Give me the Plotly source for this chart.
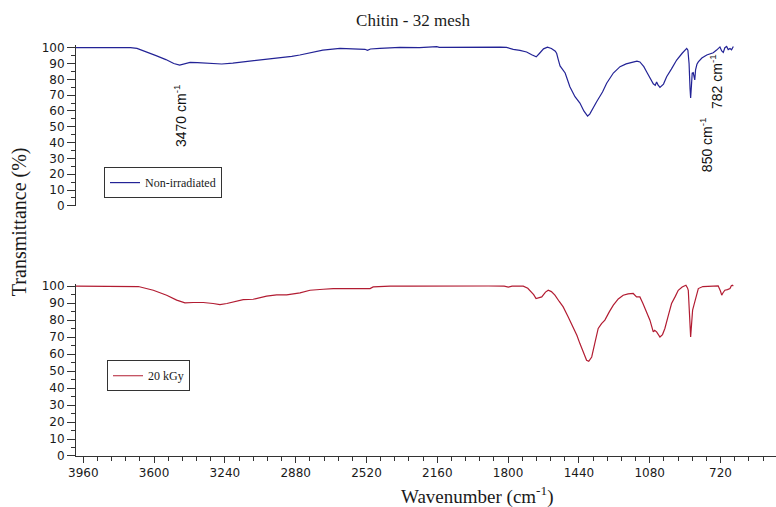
import plotly.graph_objects as go

# FTIR spectra of chitin (32 mesh): wavenumber (cm^-1) vs transmittance (%)
wn_raw = [4000, 3900, 3800, 3720, 3687, 3640, 3590, 3540, 3500, 3470, 3450, 3417, 3380,
          3330, 3256, 3200, 3112, 3040, 2946, 2900, 2859, 2800, 2742, 2655, 2560, 2528,
          2515, 2500, 2452, 2350, 2250, 2180, 2163, 2150, 2080, 2000, 1990, 1960, 1900,
          1840, 1808, 1790, 1774, 1740, 1706, 1680, 1657, 1640, 1620, 1600, 1580, 1560,
          1553, 1545, 1536, 1510, 1486, 1460, 1435, 1415, 1396, 1385, 1370, 1350, 1320,
          1299, 1265, 1231, 1200, 1164, 1145, 1130, 1110, 1096, 1075, 1062, 1052, 1045,
          1038, 1028, 1010, 994, 970, 943, 915, 900, 892, 886, 880, 875, 872, 868, 864,
          859, 855, 851, 847, 840, 833, 815, 790, 770, 757, 740, 723, 714, 706, 698, 689,
          681, 672, 664, 655]
t_raw = [100, 100.1, 100.2, 100, 99.6, 97.5, 95, 92.5, 90, 89, 89.5, 90.7, 90.6,
         90.2, 89.7, 90.3, 91.4, 92.5, 93.7, 94.5, 95.4, 97, 98.5, 99.6, 99.2, 99,
         98.3, 99.2, 99.6, 100.2, 100.1, 100.3, 100.7, 100.2, 100.3, 100.2, 100.6, 100.2, 100.3,
         100.4, 100.2, 99.4, 99, 98.3, 97.3, 95.6, 94.2, 96.5, 99.3, 100.4, 99.5, 97.8,
         96.3, 92.5, 88.5, 84, 75.3, 69, 65, 60, 56.8, 58, 61, 65.8, 72,
         77.5, 84, 88, 89.8, 91, 91.5, 91, 88, 84.8, 80, 77.2, 76.2, 78.3,
         76.5, 74.9, 77, 81.7, 86.5, 92.2, 96.5, 98.8, 99.6, 98.5, 90, 74, 68.2, 76, 84,
         84.3, 82, 79.6, 86, 89.5, 91, 93.5, 95.4, 96.3, 96.8, 98.5, 100.5, 98, 97, 100, 100.8,
         98.8, 99.5, 98.7, 100.8]

wn_20kgy = [4000, 3900, 3800, 3720, 3680, 3604, 3536, 3485, 3443, 3401, 3350, 3300, 3265,
            3230, 3197, 3147, 3096, 3028, 2977, 2926, 2858, 2807, 2740, 2689, 2600, 2502,
            2486, 2400, 2300, 2200, 2100, 2000, 1900, 1820, 1799, 1780, 1723, 1700, 1689,
            1670, 1658, 1645, 1629, 1610, 1596, 1580, 1562, 1540, 1520, 1495, 1469, 1450,
            1435, 1418, 1401, 1390, 1375, 1360, 1342, 1325, 1308, 1285, 1265, 1240, 1215,
            1190, 1164, 1147, 1130, 1115, 1104, 1090, 1079, 1062, 1055, 1045, 1035, 1028,
            1015, 1003, 985, 969, 950, 935, 915, 896, 888, 884, 878, 872, 867, 862, 856,
            850, 842, 833, 810, 774, 740, 732, 720, 714, 708, 698, 685, 672, 665, 660, 655]
t_20kgy = [100, 100, 100, 100, 99.8, 97.6, 94.7, 91.8, 90.2, 90.4, 90.4, 89.8, 89.2,
           89.8, 90.8, 92.1, 92.3, 94.1, 94.9, 94.9, 96.1, 97.6, 98.2, 98.6, 98.6, 98.6,
           99.6, 100, 100, 100.1, 100, 100.2, 100.1, 100, 99.5, 100, 100, 98.8, 97.6,
           95, 92.7, 93, 93.7, 96.5, 97.6, 96.8, 94.7, 91, 87.8, 82, 76, 71,
           66.2, 61, 56.4, 55.8, 58.3, 66, 75.1, 78, 80, 85, 88.8, 92.5, 94.7,
           95.5, 95.7, 93.7, 93.7, 90, 86.9, 83, 80, 73.1, 74, 73.1, 71, 70.1,
           71.5, 75.1, 83, 89.8, 94, 97.6, 99.5, 100.6, 99, 97.6, 84, 70.1, 78, 85.9, 88.5,
           90.8, 95, 98.6, 99.8, 100, 100, 100.2, 97, 94.7, 96, 97.6, 98, 98.6, 100.3, 100.6, 100]

series_names = ["Non-irradiated", "20 kGy"]
peak_labels = ["3470 cm<sup>-1</sup>", "850 cm<sup>-1</sup>", "782 cm<sup>-1</sup>"]
peak_label_x = [3468, 794, 743]
peak_label_y = [56.8, 39, 78.3]

W, H = 776, 507
ML, MR, MT, MB = 76, 0, 20, 51.3
plot_h = H - MT - MB
y_bottom_px = H - MB


def frac(py):
    # pixel row -> paper fraction of the plotting area
    return (y_bottom_px - py) / plot_h


def xfrac(px):
    return (px - ML) / (W - ML - MR)


Y_TOP = 101.5
top_zero, top_scale = 205.7, 1.58
bot_zero, bot_scale = 455.7, 1.697
top_domain = [frac(top_zero), frac(top_zero - Y_TOP * top_scale)]
bot_domain = [frac(bot_zero), frac(bot_zero - Y_TOP * bot_scale)]

tick_font = dict(family="DejaVu Sans", size=12, color="#1a1a1a")
serif = "Liberation Serif"
axis_col = "#333333"

fig = go.Figure()
fig.add_trace(go.Scatter(
    x=wn_raw, y=t_raw, mode="lines", name=series_names[0],
    xaxis="x", yaxis="y2", legend="legend",
    line=dict(color="rgb(35,35,150)", width=1.2)))
fig.add_trace(go.Scatter(
    x=wn_20kgy, y=t_20kgy, mode="lines", name=series_names[1],
    xaxis="x", yaxis="y", legend="legend2",
    line=dict(color="rgb(178,28,50)", width=1.2)))

yaxis_common = dict(
    range=[0, Y_TOP], tick0=0, dtick=10, ticks="outside", ticklen=8, tickwidth=1,
    tickcolor=axis_col, showline=True, linecolor=axis_col, linewidth=1,
    showgrid=False, zeroline=False, tickfont=tick_font, anchor="x",
    minor=dict(dtick=5, tick0=0, ticks="outside", ticklen=4, tickcolor=axis_col, showgrid=False),
)

fig.update_layout(
    width=W, height=H,
    margin=dict(l=ML, r=MR, t=MT, b=MB),
    paper_bgcolor="white", plot_bgcolor="white",
    xaxis=dict(
        range=[3997, 438], tick0=0, dtick=360, ticks="outside", ticklen=6,
        tickcolor=axis_col, showline=True, linecolor=axis_col, linewidth=1,
        showgrid=False, zeroline=False, tickfont=tick_font, anchor="y",
        minor=dict(dtick=72, tick0=0, ticks="outside", ticklen=4, tickcolor=axis_col, showgrid=False),
    ),
    yaxis=dict(domain=bot_domain, **yaxis_common),
    yaxis2=dict(domain=top_domain, **yaxis_common),
    showlegend=True,
    legend=dict(
        x=xfrac(104), y=frac(167), xanchor="left", yanchor="top",
        bordercolor=axis_col, borderwidth=1, bgcolor="white",
        font=dict(family=serif, size=12, color="#1a1a1a"),
        itemwidth=30,
    ),
    legend2=dict(
        x=xfrac(107), y=frac(360), xanchor="left", yanchor="top",
        bordercolor=axis_col, borderwidth=1, bgcolor="white",
        font=dict(family=serif, size=12, color="#1a1a1a"),
        itemwidth=30,
    ),
    title=dict(
        text="Chitin - 32 mesh", x=413 / W, y=1 - 20 / H,
        xref="container", yref="container", xanchor="center", yanchor="middle",
        font=dict(family=serif, size=17, color="#1a1a1a"),
    ),
)

annotations = [
    dict(text="Transmittance (%)", xref="paper", yref="paper",
         x=xfrac(19), y=frac(222), textangle=-90, showarrow=False,
         xanchor="center", yanchor="middle",
         font=dict(family=serif, size=20, color="#1a1a1a")),
    dict(text="Wavenumber (cm<sup>-1</sup>)", xref="paper", yref="paper",
         x=xfrac(477), y=frac(495), showarrow=False,
         xanchor="center", yanchor="middle",
         font=dict(family=serif, size=19, color="#1a1a1a")),
]
for txt, px, py in zip(peak_labels, peak_label_x, peak_label_y):
    annotations.append(dict(
        text=txt, xref="x", yref="y2", x=px, y=py, textangle=-90,
        showarrow=False, xanchor="center", yanchor="middle",
        font=dict(family="Liberation Sans", size=14, color="#111111")))
fig.update_layout(annotations=annotations)

fig.write_html("out.html")
